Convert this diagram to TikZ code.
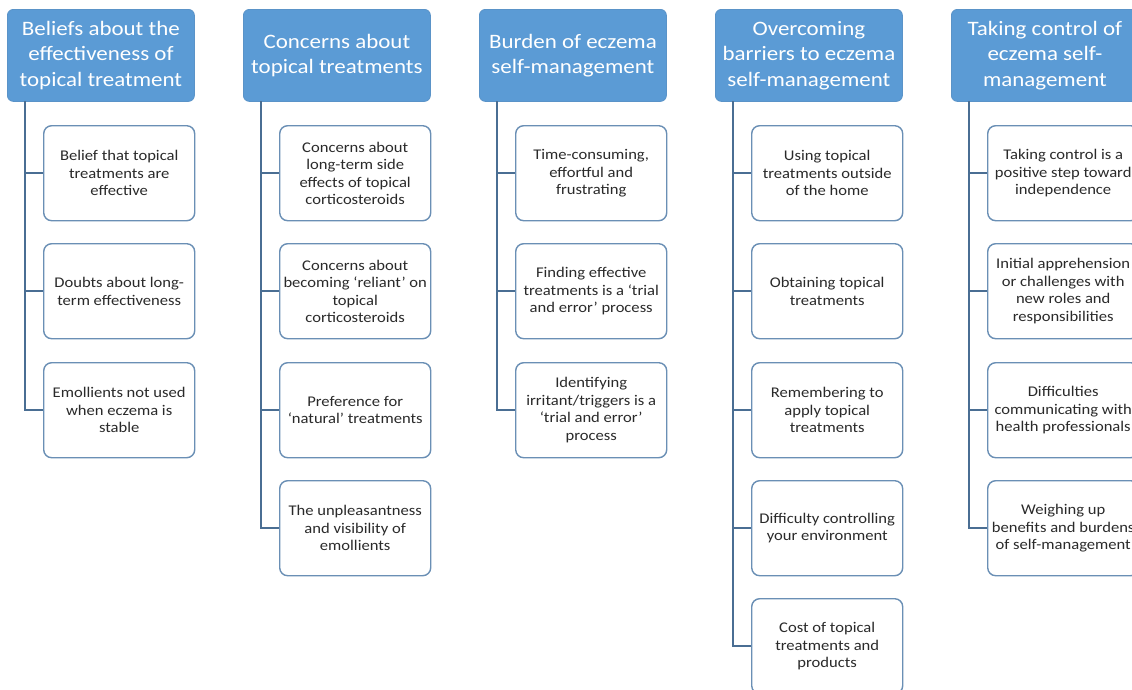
\documentclass[tikz,border=0pt]{standalone}
\usepackage{fontspec}
\setmainfont{Carlito}[FakeStretch=1.12]
\definecolor{hdrfill}{HTML}{5B9BD5}
\definecolor{hdrborder}{HTML}{5A93C8}
\definecolor{itemborder}{HTML}{6A8FB5}
\definecolor{linkc}{HTML}{4A6E93}
\definecolor{txt}{HTML}{2A2A2A}
\begin{document}
\begin{tikzpicture}[x=1pt,y=-1pt,
  hdr/.style={draw=hdrborder, line width=0.8pt, fill=hdrfill, rounded corners=6pt,
    minimum width=187pt, minimum height=92pt, align=center, text=white,
    font=\fontsize{20.5}{25.5}\selectfont, anchor=north west, inner sep=2pt},
  item/.style={draw=itemborder, line width=1.4pt, fill=white, rounded corners=8pt,
    minimum width=151pt, minimum height=95pt, align=center, text=txt,
    font=\fontsize{14.8}{17.5}\selectfont, anchor=north west, inner sep=2pt},
  link/.style={draw=linkc, line width=1.6pt}]
\clip (0,0) rectangle (1132,689);
\fill[white] (0,0) rectangle (1132,689);

% Column 1
\node[hdr] (h1) at (7,9) {Beliefs about the\\effectiveness of\\topical treatment};
\coordinate (t1) at (25,101);
\node[item] (c11) at (43,125) {Belief that topical\\treatments are\\effective};
\node[item] (c12) at (43,243) {Doubts about long-\\term effectiveness};
\node[item] (c13) at (43,362) {Emollients not used\\when eczema is\\stable};
\draw[link] (t1) |- (c11.west);
\draw[link] (t1) |- (c12.west);
\draw[link] (t1) |- (c13.west);

% Column 2
\node[hdr] (h2) at (243,9) {Concerns about\\topical treatments};
\coordinate (t2) at (261,101);
\node[item] (c21) at (279,125) {Concerns about\\long-term side\\effects of topical\\corticosteroids};
\node[item] (c22) at (279,243) {Concerns about\\becoming `reliant' on\\topical\\corticosteroids};
\node[item] (c23) at (279,362) {Preference for\\`natural' treatments};
\node[item] (c24) at (279,480) {The unpleasantness\\and visibility of\\emollients};
\draw[link] (t2) |- (c21.west);
\draw[link] (t2) |- (c22.west);
\draw[link] (t2) |- (c23.west);
\draw[link] (t2) |- (c24.west);

% Column 3
\node[hdr] (h3) at (479,9) {Burden of eczema\\self-management};
\coordinate (t3) at (497,101);
\node[item] (c31) at (515,125) {Time-consuming,\\effortful and\\frustrating};
\node[item] (c32) at (515,243) {Finding effective\\treatments is a `trial\\and error' process};
\node[item] (c33) at (515,362) {Identifying\\irritant/triggers is a\\`trial and error'\\process};
\draw[link] (t3) |- (c31.west);
\draw[link] (t3) |- (c32.west);
\draw[link] (t3) |- (c33.west);

% Column 4
\node[hdr] (h4) at (715,9) {Overcoming\\barriers to eczema\\self-management};
\coordinate (t4) at (733,101);
\node[item] (c41) at (751,125) {Using topical\\treatments outside\\of the home};
\node[item] (c42) at (751,243) {Obtaining topical\\treatments};
\node[item] (c43) at (751,362) {Remembering to\\apply topical\\treatments};
\node[item] (c44) at (751,480) {Difficulty controlling\\your environment};
\node[item] (c45) at (751,598) {Cost of topical\\treatments and\\products};
\draw[link] (t4) |- (c41.west);
\draw[link] (t4) |- (c42.west);
\draw[link] (t4) |- (c43.west);
\draw[link] (t4) |- (c44.west);
\draw[link] (t4) |- (c45.west);

% Column 5
\node[hdr] (h5) at (951,9) {Taking control of\\eczema self-\\management};
\coordinate (t5) at (969,101);
\node[item] (c51) at (987,125) {Taking control is a\\positive step toward\\independence};
\node[item] (c52) at (987,243) {Initial apprehension\\or challenges with\\new roles and\\responsibilities};
\node[item] (c53) at (987,362) {Difficulties\\communicating with\\health professionals};
\node[item] (c54) at (987,480) {Weighing up\\benefits and burdens\\of self-management};
\draw[link] (t5) |- (c51.west);
\draw[link] (t5) |- (c52.west);
\draw[link] (t5) |- (c53.west);
\draw[link] (t5) |- (c54.west);
\end{tikzpicture}
\end{document}
